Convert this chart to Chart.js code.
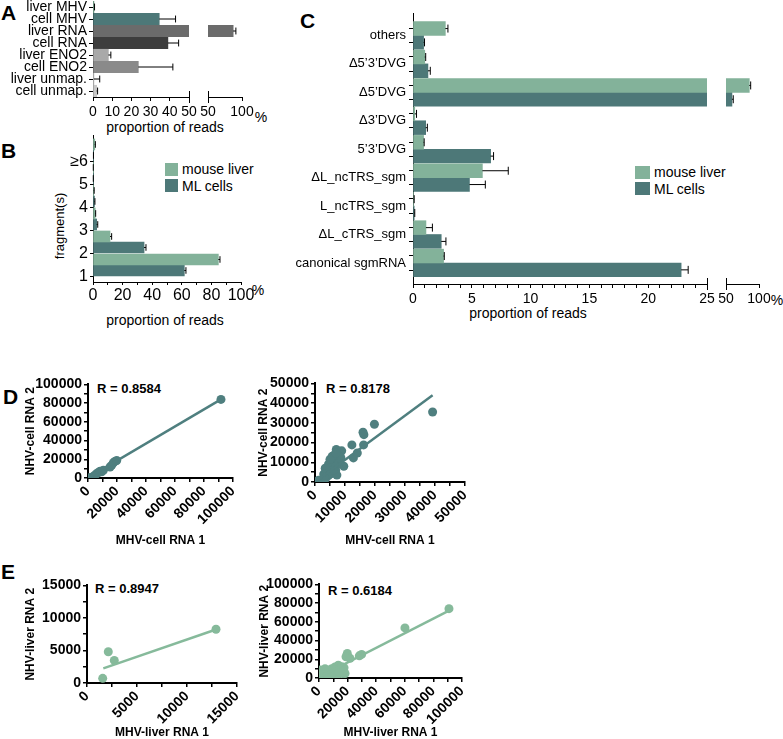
<!DOCTYPE html>
<html><head><meta charset="utf-8">
<script src="https://cdn.jsdelivr.net/npm/chart.js@4.4.1/dist/chart.umd.min.js"></script>
<style>
html,body{margin:0;padding:0;background:#fff;}
body{width:783px;height:739px;position:relative;overflow:hidden;font-family:"Liberation Sans",Arial,sans-serif;color:#000;}
canvas{position:absolute;}
.t{position:absolute;white-space:nowrap;line-height:1;}
.letter{font-weight:bold;font-size:21px;}
.c{font-size:14px;transform:translate(-50%,-50%);}
.r{font-weight:bold;font-size:13px;transform:translateY(-50%);}
.lg{font-size:14px;transform:translateY(-50%);}
.sw{position:absolute;}
.rot{font-size:13px;transform:translate(-50%,-50%) rotate(-90deg);}
</style></head><body>
<div class="t letter" style="left:1px;top:2px">A</div>
<div class="t letter" style="left:1px;top:140px">B</div>
<div class="t letter" style="left:300px;top:10px">C</div>
<div class="t letter" style="left:3px;top:386px">D</div>
<div class="t letter" style="left:1px;top:561px">E</div>

<div class="t c" style="left:165px;top:127px">proportion of reads</div>
<div class="t c" style="left:261px;top:117px">%</div>
<div class="t c" style="left:165px;top:320px">proportion of reads</div>
<div class="t c" style="left:258px;top:290px">%</div>
<div class="t c" style="left:528px;top:313px">proportion of reads</div>
<div class="t c" style="left:777px;top:300px">%</div>
<div class="t rot" style="left:59px;top:226px">fragment(s)</div>

<div class="sw" style="left:165px;top:163px;width:13px;height:13px;background:#83b29a"></div>
<div class="sw" style="left:165px;top:179px;width:13px;height:13px;background:#4d7878"></div>
<div class="t lg" style="left:182px;top:169px">mouse liver</div>
<div class="t lg" style="left:182px;top:186px">ML cells</div>
<div class="sw" style="left:635px;top:166px;width:15px;height:13px;background:#83b29a"></div>
<div class="sw" style="left:635px;top:182px;width:15px;height:13px;background:#4d7878"></div>
<div class="t lg" style="left:654px;top:172px">mouse liver</div>
<div class="t lg" style="left:654px;top:189px">ML cells</div>

<div class="t r" style="left:97px;top:388px">R = 0.8584</div>
<div class="t r" style="left:326px;top:388px">R = 0.8178</div>
<div class="t r" style="left:95px;top:588px">R = 0.8947</div>
<div class="t r" style="left:328px;top:590px">R = 0.6184</div>

<script>
// ================= DATA =================
// Panel A
const aCategories = ['liver MHV','cell MHV','liver RNA','cell RNA','liver ENO2','cell ENO2','liver unmap.','cell unmap.'];
const aValues = [0.5, 34.5, 87, 39, 8, 23.6, 0.5, 1.9];
const aErrors = [0.3, 8.5, 4, 5.6, 1.3, 18, 3, 0.5];
const aTickLabelsMain = [0, 10, 20, 30, 40, 50];
const aTickLabelsBreak = [50, 100];

// Panel B
const bCategories = ['1','2','3','4','5','≥6'];
const bSeriesNames = ['mouse liver','ML cells'];
const bLiver = [84.7, 11.5, 1.5, 0.5, 0.1, 1.2];
const bLiverErr = [1.1, 1.1, 0.3, 0.3, 0.1, 0.4];
const bCells = [61.7, 34.5, 2.5, 1.0, 0.1, 0.2];
const bCellsErr = [1.1, 1.3, 0.7, 0.3, 0.1, 0.1];
const bTickLabels = [0, 20, 40, 60, 80, 100];

// Panel C
const cCategories = ['others','Δ5’3’DVG','Δ5’DVG','Δ3’DVG','5’3’DVG','ΔL_ncTRS_sgm','L_ncTRS_sgm','ΔL_cTRS_sgm','canonical sgmRNA'];
const cLiver = [2.75, 1.0, 85.3, 0.15, 0.9, 5.9, 0.05, 1.1, 2.6];
const cLiverErr = [0.22, 0.08, 2.1, 0.15, 0.05, 2.2, 0.05, 0.55, 0.06];
const cCells = [0.9, 1.27, 59, 1.08, 6.6, 4.8, 0.1, 2.4, 22.8];
const cCellsErr = [0.08, 0.2, 2, 0.14, 0.25, 1.35, 0.05, 0.4, 0.6];
const cTickLabelsMain = [0, 5, 10, 15, 20, 25];
const cTickLabelsBreak = [50, 100];

// Panel D (MHV-cell RNA 1 vs NHV-cell RNA 2)
const dLeftPoints = [[800,200],[1400,0],[2500,300],[3500,1500],[4800,3100],[6000,4500],[7100,5900],[8300,7300],[9400,6600],[10600,8300],
  [15200,11800],[16300,13500],[17500,16300],[18600,17700],[19800,18700],[91700,84000]];
const dLeftFit = [[0,300],[91700,84000]];
const dLeftTickLabels = [0,20000,40000,60000,80000,100000];
const dRightPoints = [[39200,35500],[19800,29300],[16000,25200],[16300,24000],[12300,18800],[16200,18800],[14100,14700],[12800,12200],
  [8900,15800],[7100,16500],[7500,13500],[8600,12500],[9600,8000],[6000,10200],[5000,8000],[4100,6300],[4500,3300],[5600,4300],
  [6900,5800],[7300,3500],[3500,1700],[2500,300],[1800,200],[600,100],[6500,11000],[5700,13000],[6900,14700],[4500,9000],
  [3400,7000],[2900,4000],[8000,9500],[7000,8000],[5000,11500],[6000,6000],[1200,900],[3000,2500]];
const dRightFit = [[0,0],[39200,44000]];
const dRightTickLabels = [0,10000,20000,30000,40000,50000];

// Panel E (MHV-liver RNA 1 vs NHV-liver RNA 2)
const eLeftPoints = [[1570,720],[2130,4800],[2730,3470],[12900,8260]];
const eLeftFit = [[1630,2250],[12900,8230]];
const eLeftTickLabels = [0,5000,10000,15000];
const eRightPoints = [[90900,74100],[60100,53500],[29800,25200],[28200,23700],[19800,26200],[18900,22700],[21700,21000],
  [700,8500],[3000,3000],[5400,6400],[8900,10000],[11200,11800],[13500,13600],[14700,10000],[17000,8500],[15800,4800],
  [12400,3000],[7700,1200],[1900,500],[4200,10000],[10000,6400],[18200,4800],[2000,6000],[6000,3500],[9500,7500],
  [12000,9000],[16000,12000],[14000,6500],[17500,11000]];
const eRightFit = [[0,1000],[90900,72000]];
const eRightTickLabels = [0,20000,40000,60000,80000,100000];

// ================= STYLE / HELPERS =================
const FONT = '"Liberation Sans", Arial, sans-serif';
const LIVER = '#83b29a', CELLS = '#4d7878';
const aColors = ['#83b29a','#4d7878','#6b6b6b','#3d3d3d','#a9a9a9','#8a8a8a','#c8c8c8','#c8c8c8'];
const D_COLOR = '#4f7f7f', E_COLOR = '#86ba9b';

function steps(a, b, s) { const r = []; for (let v = a; v <= b + 1e-9; v += s) r.push(+v.toFixed(6)); return r; }

function mkCanvas(area, yW, xH, pad) {
  const c = document.createElement('canvas');
  const W = Math.round(area.r - area.l + yW + pad.l + pad.r);
  const H = Math.round(area.b - area.t + xH + pad.t + pad.b);
  c.width = W; c.height = H;
  c.style.left = (area.l - yW - pad.l) + 'px';
  c.style.top = (area.t - pad.t) + 'px';
  c.style.width = W + 'px'; c.style.height = H + 'px';
  document.body.appendChild(c);
  return c;
}

const errorBars = {
  id: 'errorBars',
  afterDatasetsDraw(chart) {
    const {ctx, chartArea: a} = chart;
    const xs = chart.scales.x;
    ctx.save();
    ctx.beginPath(); ctx.rect(a.left - 1, a.top - 2, a.right - a.left + 2, a.bottom - a.top + 4); ctx.clip();
    ctx.strokeStyle = '#000'; ctx.lineWidth = 1;
    chart.data.datasets.forEach((ds, di) => {
      if (!ds.errors) return;
      const meta = chart.getDatasetMeta(di);
      meta.data.forEach((el, i) => {
        const v = ds.data[i].x, e = ds.errors[i];
        if (v == null || e == null) return;
        const x0 = xs.getPixelForValue(v), x1 = xs.getPixelForValue(v + e);
        const y = el.y, h = Math.min(el.height * 0.3, 4);
        ctx.beginPath();
        ctx.moveTo(x0, y); ctx.lineTo(x1, y);
        ctx.moveTo(x1, y - h); ctx.lineTo(x1, y + h);
        ctx.stroke();
      });
    });
    ctx.restore();
  }
};

const breakMarks = {
  id: 'breakMarks',
  afterDraw(chart, args, opts) {
    const sides = (opts && opts.sides) || [];
    const a = chart.chartArea, ctx = chart.ctx;
    ctx.save(); ctx.strokeStyle = '#000'; ctx.lineWidth = 1;
    sides.forEach(s => {
      const x = Math.round(s === 'left' ? a.left : a.right) + 0.5;
      ctx.beginPath(); ctx.moveTo(x, a.bottom - 6); ctx.lineTo(x, a.bottom + 6); ctx.stroke();
    });
    ctx.restore();
  }
};

function hBar(o) {
  const c = mkCanvas(o.area, o.yW, o.xH, o.pad);
  const datasets = o.series.map(s => ({
    label: s.label,
    data: s.values.map((v, i) => ({x: v, y: i + 1})),
    errors: s.errors,
    backgroundColor: s.color,
    borderWidth: 0,
    barThickness: o.barTh,
    clip: 0
  }));
  return new Chart(c, {
    type: 'bar',
    data: {datasets},
    options: {
      indexAxis: 'y', responsive: false, animation: false, events: [],
      layout: {padding: {left: o.pad.l, right: o.pad.r, top: o.pad.t, bottom: o.pad.b}},
      plugins: {legend: {display: false}, tooltip: {enabled: false}, breakMarks: {sides: o.breaks || []}},
      scales: {
        x: {
          type: 'linear', min: o.xMin, max: o.xMax, offset: false,
          afterBuildTicks: s => { s.ticks = o.xTicks.map(v => ({value: v})); },
          ticks: {autoSkip: false, maxRotation: 0, minRotation: 0, padding: o.xPad, color: '#000',
            font: {family: FONT, size: o.xFont}, callback: v => o.xLabels.includes(v) ? String(v) : ''},
          grid: {offset: false, drawOnChartArea: false, drawTicks: true, tickLength: o.tl, color: '#000', tickColor: '#000'},
          border: {color: '#000', width: 1},
          afterFit: s => { s.height = o.xH; }
        },
        y: {
          type: 'linear', display: o.showY, reverse: !!o.reverse, min: o.yMin, max: o.yMax, offset: false,
          afterBuildTicks: s => { s.ticks = o.yTicks.map(v => ({value: v})); },
          ticks: {autoSkip: false, padding: o.yPad, color: '#000', font: {family: FONT, size: o.yFont}, callback: o.yLabel},
          grid: {offset: false, drawOnChartArea: false, tickLength: o.tl, color: '#000', tickColor: o.yTickColor || '#000'},
          border: {color: '#000', width: 1},
          afterFit: s => { if (o.showY) s.width = o.yW; }
        }
      }
    },
    plugins: [errorBars, breakMarks]
  });
}

function scatter(o) {
  const c = mkCanvas(o.area, o.yW, o.xH, o.pad);
  const bold = size => ({family: FONT, size, weight: 'bold'});
  return new Chart(c, {
    type: 'scatter',
    data: {datasets: [
      {data: o.fit.map(p => ({x: p[0], y: p[1]})), showLine: true, borderColor: o.color, borderWidth: 2.5, pointRadius: 0},
      {data: o.points.map(p => ({x: p[0], y: p[1]})), backgroundColor: o.color, borderColor: o.color, pointRadius: 4.5, borderWidth: 0}
    ]},
    options: {
      responsive: false, animation: false, events: [],
      layout: {padding: {left: o.pad.l, right: o.pad.r, top: o.pad.t, bottom: o.pad.b}},
      plugins: {legend: {display: false}, tooltip: {enabled: false}},
      scales: {
        x: {
          type: 'linear', min: 0, max: o.max,
          afterBuildTicks: s => { s.ticks = steps(0, o.max, o.minor).map(v => ({value: v})); },
          ticks: {autoSkip: false, minRotation: 45, maxRotation: 45, padding: 1, color: '#000', font: bold(14),
            callback: v => o.labels.includes(v) ? String(v) : ''},
          title: {display: true, text: o.xTitle, color: '#000', font: bold(12), padding: 0},
          grid: {drawOnChartArea: false, tickLength: 4, color: '#000', lineWidth: 1.5},
          border: {color: '#000', width: 2},
          afterFit: s => { s.height = o.xH; }
        },
        y: {
          type: 'linear', min: 0, max: o.max,
          afterBuildTicks: s => { s.ticks = steps(0, o.max, o.minor).map(v => ({value: v})); },
          ticks: {autoSkip: false, padding: 2, color: '#000', font: bold(14),
            callback: v => o.labels.includes(v) ? String(v) : ''},
          title: {display: true, text: o.yTitle, color: '#000', font: bold(12), padding: 0},
          grid: {drawOnChartArea: false, tickLength: 4, color: '#000', lineWidth: 1.5},
          border: {color: '#000', width: 2},
          afterFit: s => { s.width = o.yW; }
        }
      }
    }
  });
}

// ---------- Panel A ----------
const aSeries = [{label: 'A', values: aValues, errors: aErrors, color: aColors}];
const aCommon = {series: aSeries, barTh: 11.5, yMin: 0.5, yMax: 8.5, reverse: true,
  yTicks: steps(1, 8, 1), yLabel: v => aCategories[v - 1] || '', yFont: 14, yPad: 2, tl: 4, xFont: 14, xPad: 3, xH: 26};
hBar(Object.assign({}, aCommon, {area: {l: 93, r: 189, t: 1, b: 97}, yW: 93, pad: {l: 0, r: 12, t: 14, b: 4},
  showY: true, xMin: 0, xMax: 50, xTicks: aTickLabelsMain, xLabels: aTickLabelsMain, breaks: ['right']}));
hBar(Object.assign({}, aCommon, {area: {l: 208, r: 242, t: 1, b: 97}, yW: 0, pad: {l: 12, r: 16, t: 14, b: 4},
  showY: false, xMin: 50, xMax: 100, xTicks: aTickLabelsBreak, xLabels: aTickLabelsBreak, breaks: ['left']}));

// ---------- Panel B ----------
hBar({area: {l: 93, r: 241, t: 135, b: 282}, yW: 93, xH: 26, pad: {l: 0, r: 16, t: 12, b: 4},
  series: [{label: bSeriesNames[0], values: bLiver, errors: bLiverErr, color: LIVER},
           {label: bSeriesNames[1], values: bCells, errors: bCellsErr, color: CELLS}],
  barTh: 11, yMin: 0.26, yMax: 6.65, reverse: false, showY: true,
  yTicks: steps(0.5, 5.5, 1), yLabel: v => bCategories[Math.round(v - 0.5)] || '', yFont: 16, yPad: 2, tl: 3,
  xMin: 0, xMax: 100, xTicks: steps(0, 100, 10), xLabels: bTickLabels, xFont: 16, xPad: 1});

// ---------- Panel C ----------
const cSeries = [{label: 'mouse liver', values: cLiver, errors: cLiverErr, color: LIVER},
                 {label: 'ML cells', values: cCells, errors: cCellsErr, color: CELLS}];
const cYTicks = [];
for (let i = 1; i <= cCategories.length; i++) cYTicks.push(i - 0.25, i, i + 0.25);
const cCommon = {series: cSeries, barTh: 13.8, yMin: 0.21, yMax: 9.74, reverse: true,
  yTicks: cYTicks, yLabel: v => Number.isInteger(v) ? cCategories[v - 1] : '', yFont: 13, yPad: 3, tl: 4,
  yTickColor: ctx => (ctx.tick && Number.isInteger(ctx.tick.value)) ? 'rgba(0,0,0,0)' : '#000',
  xFont: 14, xPad: 3, xH: 26};
hBar(Object.assign({}, cCommon, {area: {l: 413, r: 707, t: 13, b: 284}, yW: 122, pad: {l: 0, r: 12, t: 12, b: 4},
  showY: true, xMin: 0, xMax: 25, xTicks: steps(0, 25, 1), xLabels: cTickLabelsMain, breaks: ['right']}));
hBar(Object.assign({}, cCommon, {area: {l: 726, r: 759, t: 13, b: 284}, yW: 0, pad: {l: 12, r: 16, t: 12, b: 4},
  showY: false, xMin: 50, xMax: 100, xTicks: cTickLabelsBreak, xLabels: cTickLabelsBreak, breaks: ['left']}));

// ---------- Panel D ----------
scatter({area: {l: 88, r: 233, t: 384, b: 478}, yW: 65, xH: 70, pad: {l: 0, r: 14, t: 10, b: 2},
  points: dLeftPoints, fit: dLeftFit, color: D_COLOR, max: 100000, minor: 10000, labels: dLeftTickLabels,
  xTitle: 'MHV-cell RNA 1', yTitle: 'NHV-cell RNA 2'});
scatter({area: {l: 315, r: 465, t: 383, b: 482}, yW: 59, xH: 66, pad: {l: 0, r: 14, t: 10, b: 2},
  points: dRightPoints, fit: dRightFit, color: D_COLOR, max: 50000, minor: 5000, labels: dRightTickLabels,
  xTitle: 'MHV-cell RNA 1', yTitle: 'NHV-cell RNA 2'});

// ---------- Panel E ----------
scatter({area: {l: 87, r: 237, t: 585, b: 683}, yW: 64, xH: 57, pad: {l: 0, r: 14, t: 10, b: 2},
  points: eLeftPoints, fit: eLeftFit, color: E_COLOR, max: 15000, minor: 2500, labels: eLeftTickLabels,
  xTitle: 'MHV-liver RNA 1', yTitle: 'NHV-liver RNA 2'});
scatter({area: {l: 319, r: 462, t: 584, b: 678}, yW: 62, xH: 62, pad: {l: 0, r: 14, t: 10, b: 2},
  points: eRightPoints, fit: eRightFit, color: E_COLOR, max: 100000, minor: 10000, labels: eRightTickLabels,
  xTitle: 'MHV-liver RNA 1', yTitle: 'NHV-liver RNA 2'});
</script>
</body></html>
